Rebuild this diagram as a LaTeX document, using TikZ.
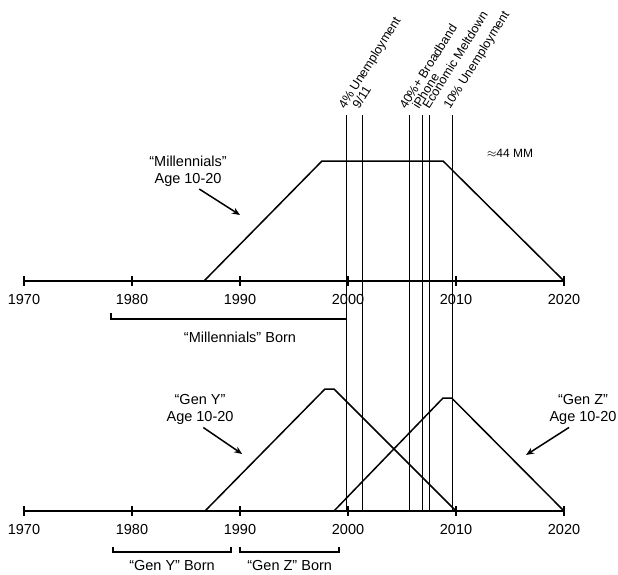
\documentclass[tikz,border=0pt]{standalone}
\usepackage{fontspec}
\setmainfont{Liberation Sans}
\usetikzlibrary{arrows.meta}

\tikzset{
	thickline/.style={line width=1.5pt},
	pointer/.style={line width=1.5pt, -{Stealth[length=8pt,width=6.5pt]}},
	yearlabel/.style={font=\fontsize{14.5}{17}\selectfont, inner sep=0pt},
	genlabel/.style={font=\fontsize{14.5}{17}\selectfont, align=center, inner sep=1pt},
	eventlabel/.style={font=\fontsize{12.5}{14}\selectfont, rotate=58, anchor=base west, inner sep=0pt},
}

\begin{document}
\begin{tikzpicture}[x=1pt,y=-1pt]
	\useasboundingbox (0,0) rectangle (618,575);
	\begin{scope}[xshift=24pt,x=10.8pt]
	  \draw[thickline] (0,281) -- (50,281);
	  \draw[thickline] (0,511) -- (50,511);
	  \foreach \i in {0,...,5} {
	    \pgfmathtruncatemacro{\yr}{1970+10*\i}
	    \draw[thickline] (10*\i,276) -- (10*\i,286);
	    \draw[thickline] (10*\i,506) -- (10*\i,516);
	    \node[yearlabel] (up\yr) at (10*\i,300) {\yr};
	    \node[yearlabel] (low\yr) at (10*\i,530) {\yr};
	  }

	  \draw[thickline] (16.67,281) -- (27.59,161) -- (38.8,161) -- (50,281);
	  \draw[thickline] (16.76,511) -- (27.87,389) -- (28.7,389) -- (40,511);
	  \draw[thickline] (28.7,511) -- (38.8,398) -- (39.6,398) -- (50,511);

	  \draw[thickline] (29.88,511) -- (29.88,115);
	  \draw[thickline] (31.32,511) -- (31.32,115);
	  \draw[thickline] (35.68,511) -- (35.68,115);
	  \draw[thickline] (36.92,511) -- (36.92,115);
	  \draw[thickline] (37.53,511) -- (37.53,115);
	  \draw[thickline] (39.69,511) -- (39.69,115);
	  \node[eventlabel] (unemp4) at (29.72,110) {4\% Unemployment};
	  \node[eventlabel] (nineeleven) at (31.02,110) {9/11};
	  \node[eventlabel] (broadband) at (35.37,110) {40\%+ Broadband};
	  \node[eventlabel] (iphone) at (36.57,110) {iPhone};
	  \node[eventlabel] (meltdown) at (37.5,110) {Economic Meltdown};
	  \node[eventlabel] (unemp10) at (39.44,110) {10\% Unemployment};

	  \node[font=\fontsize{12}{14}\selectfont] (mm) at (45,153) {$\approx$44 MM};

	  \draw[thickline] (8.06,313) -- (8.06,319) -- (29.88,319) -- (29.88,313);
	  \node[genlabel] (millborn) at (20,337) {“Millennials” Born};
	  \draw[thickline] (8.24,547) -- (8.24,552) -- (19.17,552) -- (19.17,547);
	  \draw[thickline] (20,547) -- (20,552) -- (29.17,552) -- (29.17,547);
	  \node[genlabel] (genyborn) at (13.7,566) {“Gen Y” Born};
	  \node[genlabel] (genzborn) at (24.6,566) {“Gen Z” Born};

	  \node[genlabel] (mill) at (15.19,171) {“Millennials”\\Age 10-20};
	  \node[genlabel] (geny) at (16.3,409) {“Gen Y”\\Age 10-20};
	  \node[genlabel] (genz) at (51.76,409) {“Gen Z”\\Age 10-20};
	  \coordinate (milltip) at (20,215);
	  \coordinate (genytip) at (20.2,454);
	  \coordinate (genztip) at (46.48,455);
	  \draw[pointer, shorten <=3pt] (mill.-62) -- (milltip);
	  \draw[pointer, shorten <=4pt] (geny.south) -- (genytip);
	  \draw[pointer, shorten <=4pt] (genz.-123) -- (genztip);
	\end{scope}
\end{tikzpicture}
\end{document}
